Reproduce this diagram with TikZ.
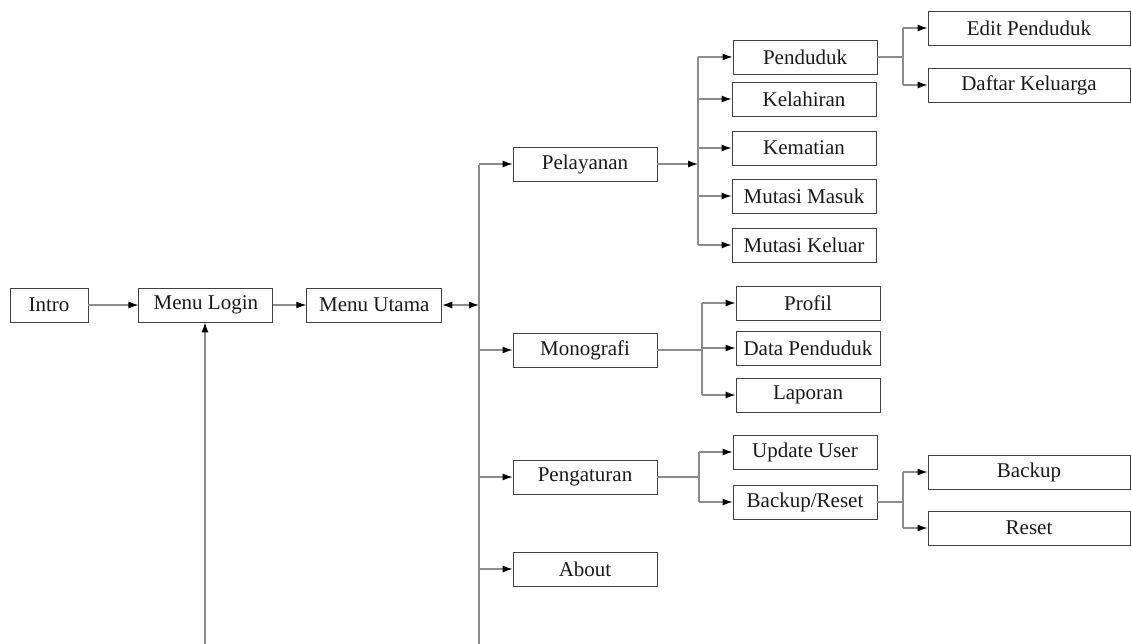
\documentclass[tikz,border=0pt]{standalone}
\usepackage{fontspec}
\setmainfont{Liberation Serif}
\usetikzlibrary{arrows.meta,positioning}
\tikzset{>={Latex[length=10pt,width=7pt,color=black]},
  menu/.style={draw=black!75,line width=0.9pt,minimum height=34pt,inner sep=2pt,
    font=\fontsize{21}{24}\selectfont,text=black!90},
  menuA/.style={menu,minimum width=144pt},
  menuB/.style={menu,minimum width=202pt},
  flow/.style={->,line width=1.1pt,draw=black!45},
  link/.style={line width=1.1pt,draw=black!45}}
\begin{document}
\begin{tikzpicture}[x=1pt,y=-1pt]
  \useasboundingbox (0,0) rectangle (1131,644);
  % main row
  \node[menu,minimum width=78pt] (intro) at (49,305) {Intro};
  \node[menu,minimum width=134pt,right=50pt of intro] (login) {Menu Login};
  \node[menu,minimum width=135pt,right=33pt of login] (utama) {Menu Utama};
  \coordinate (bus) at (479,165);
  \coordinate (busend) at (479,644);
  \coordinate (loginend) at (205,644);
  % second level
  \node[menuA] (pel) at (585,164) {Pelayanan};
  \node[menuA] (mono) at (585,350) {Monografi};
  \node[menuA] (atur) at (585,477) {Pengaturan};
  \node[menuA] (about) at (585,569) {About};
  % pelayanan
  \node[menuA] (pend) at (805,57) {Penduduk};
  \node[menuA] (lahir) at (804,99) {Kelahiran};
  \node[menuA] (mati) at (804,148) {Kematian};
  \node[menuA] (masuk) at (804,196) {Mutasi Masuk};
  \node[menuA] (keluar) at (804,245) {Mutasi Keluar};
  \node[menuB] (edit) at (1029,28) {Edit Penduduk};
  \node[menuB] (kk) at (1029,85) {Daftar Keluarga};
  % monografi
  \node[menuA] (profil) at (808,303) {Profil};
  \node[menuA] (data) at (808,348) {Data Penduduk};
  \node[menuA] (lapor) at (808,395) {Laporan};
  % pengaturan
  \node[menuA] (user) at (805,452) {Update User};
  \node[menuA] (br) at (805,502) {Backup/Reset};
  \node[menuB] (backup) at (1029,472) {Backup};
  \node[menuB] (reset) at (1029,528) {Reset};
  \coordinate (jpel) at (698,0);
  \coordinate (jmono) at (702,0);
  \coordinate (jatur) at (699,0);
  \coordinate (jpend) at (903,0);
  % connectors
  \draw[flow] (intro) -- (login);
  \draw[flow] (login.east) -- (login.east -| utama.west);
  \draw[<->,line width=1.1pt,draw=black!45] (utama.east) -- (utama.east -| bus);
  \draw[flow] (loginend) -- (login.south -| loginend);
  \draw[link] (bus) -- (busend);
  \foreach \n in {pel,mono,atur,about}
    \draw[flow] (\n.west -| bus) -- (\n.west);
  \draw[flow] (pel.east) -- (pel.east -| jpel);
  \draw[link] (pend.west -| jpel) -- (keluar.west -| jpel);
  \foreach \n in {pend,lahir,mati,masuk,keluar}
    \draw[flow] (\n.west -| jpel) -- (\n.west);
  \draw[link] (mono.east) -- (mono.east -| jmono);
  \draw[link] (profil.west -| jmono) -- (lapor.west -| jmono);
  \foreach \n in {profil,data,lapor}
    \draw[flow] (\n.west -| jmono) -- (\n.west);
  \draw[link] (atur.east) -- (atur.east -| jatur);
  \draw[link] (user.west -| jatur) -- (br.west -| jatur);
  \foreach \n in {user,br}
    \draw[flow] (\n.west -| jatur) -- (\n.west);
  \draw[link] (pend.east) -- (pend.east -| jpend);
  \draw[link] (edit.west -| jpend) -- (kk.west -| jpend);
  \foreach \n in {edit,kk}
    \draw[flow] (\n.west -| jpend) -- (\n.west);
  \draw[link] (br.east) -- (br.east -| jpend);
  \draw[link] (backup.west -| jpend) -- (reset.west -| jpend);
  \foreach \n in {backup,reset}
    \draw[flow] (\n.west -| jpend) -- (\n.west);
\end{tikzpicture}
\end{document}
